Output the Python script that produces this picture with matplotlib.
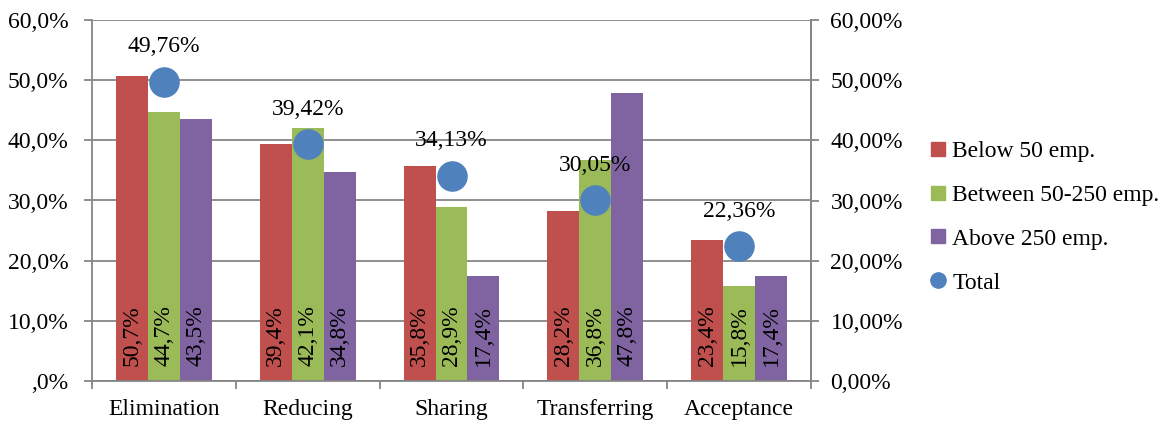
import numpy as np
import matplotlib.pyplot as plt
from matplotlib.lines import Line2D

plt.rcParams['font.family'] = ['Liberation Serif', 'DejaVu Serif']

categories = ["Elimination", "Reducing", "Sharing", "Transferring", "Acceptance"]
below_50 = [50.7, 39.4, 35.8, 28.2, 23.4]
between_50_250 = [44.7, 42.1, 28.9, 36.8, 15.8]
above_250 = [43.5, 34.8, 17.4, 47.8, 17.4]
total = [49.76, 39.42, 34.13, 30.05, 22.36]

series_names = ["Below 50 emp.", "Between 50-250 emp.", "Above 250 emp."]
left_ticks = [0, 10, 20, 30, 40, 50, 60]
left_labels = [",0%", "10,0%", "20,0%", "30,0%", "40,0%", "50,0%", "60,0%"]
right_labels = ["0,00%", "10,00%", "20,00%", "30,00%", "40,00%", "50,00%", "60,00%"]

colors = ['#C0504D', '#9BBB59', '#8064A2']
blue = '#4F81BD'
gray = '#868686'
fs = 17

fig = plt.figure(figsize=(11.69, 4.23), dpi=100)
ax = fig.add_axes([92 / 1169, 42 / 423, (811 - 92) / 1169, (381 - 20) / 423])

x = np.arange(len(categories))
w = 0.222
for i, (vals, c) in enumerate(zip([below_50, between_50_250, above_250], colors)):
    xs = x + (i - 1) * w
    ax.bar(xs, vals, width=w, color=c, zorder=2)
    for xi, v in zip(xs, vals):
        ax.annotate(f"{v:.1f}%".replace('.', ','), (xi, 0), xytext=(0, 11),
                    textcoords='offset points', rotation=90, ha='center',
                    va='bottom', fontsize=fs, zorder=4)

ax.set_xlim(-0.5, len(categories) - 0.5)
ax.set_ylim(0, 60)
ax.set_yticks(left_ticks)
ax.set_yticklabels(left_labels, fontsize=fs)
ax.set_xticks(x)
ax.set_xticklabels(categories, fontsize=fs)
ax.set_xticks(np.arange(-0.5, len(categories)), minor=True)
ax.tick_params(axis='x', which='major', length=0, pad=13)
ax.tick_params(axis='x', which='minor', length=6, width=1.3, color=gray, direction='out')
ax.tick_params(axis='y', length=6, width=1.3, color=gray, direction='out', pad=11)
ax.yaxis.grid(True, color=gray, linewidth=1.3, zorder=0)
ax.set_axisbelow(True)
ax.spines['top'].set_visible(False)
for s in ['left', 'bottom', 'right']:
    ax.spines[s].set_color(gray)
    ax.spines[s].set_linewidth(1.3)

ax2 = ax.twinx()
ax2.set_ylim(0, 60)
ax2.set_yticks(left_ticks)
ax2.set_yticklabels(right_labels, fontsize=fs)
ax2.tick_params(axis='y', length=6, width=1.3, color=gray, direction='out', pad=8)
ax2.spines['top'].set_visible(False)
ax2.spines['left'].set_visible(False)
ax2.spines['bottom'].set_visible(False)
ax2.spines['right'].set_color(gray)
ax2.spines['right'].set_linewidth(1.3)
ax2.plot(x, total, 'o', color=blue, markersize=21, zorder=5)
for xi, v in zip(x, total):
    ax2.annotate(f"{v:.2f}%".replace('.', ','), (xi, v), xytext=(0, 25),
                 textcoords='offset points', ha='center', va='center', fontsize=fs)

handles = [Line2D([], [], marker='s', linestyle='None', color=c, markersize=9.5) for c in colors]
handles.append(Line2D([], [], marker='o', linestyle='None', color=blue, markersize=11))
fig.legend(handles, series_names + ["Total"], loc='center left',
           bbox_to_anchor=(932 / 1169, 1 - 217 / 423), frameon=False, fontsize=fs,
           handlelength=0.55, handletextpad=0.3, labelspacing=0.95,
           borderpad=0, borderaxespad=0)

fig.savefig('out.png', dpi=100, facecolor='white')
